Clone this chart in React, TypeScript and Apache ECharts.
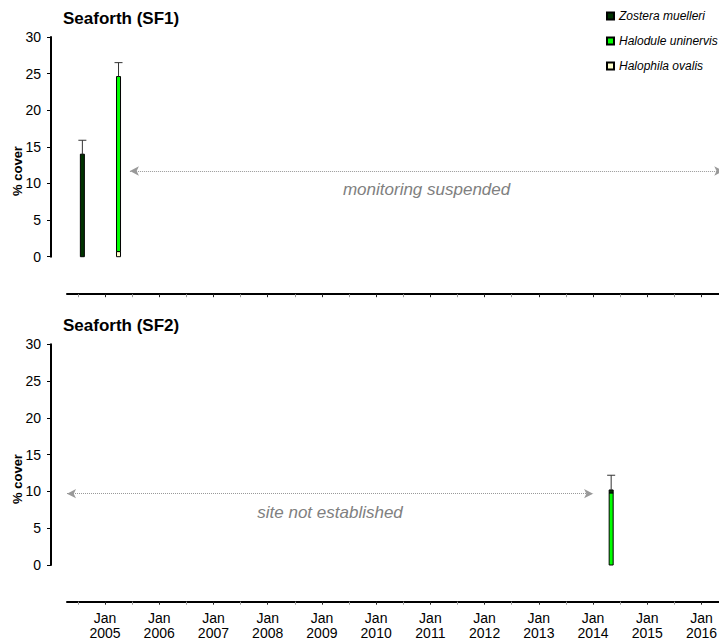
import React, { useEffect, useRef } from "react";
import * as echarts from "echarts";

// ---- data ----
// stack order, bottom -> top
const stackSpecies = ["Halophila ovalis", "Halodule uninervis", "Zostera muelleri"];
const stackColors = ["#FFFFCC", "#00FF00", "#003300"];
const legendOrder = ["Zostera muelleri", "Halodule uninervis", "Halophila ovalis"];

const sf1Title = "Seaforth (SF1)";
const sf1Dates = ["2004-08", "2005-04"];
const sf1Halophila = [null, 0.7];
const sf1Halodule = [null, 23.9];
const sf1Zostera = [14.0, null];
const sf1SE = [1.9, 1.9];
const sf1Note = "monitoring suspended";
const sf1NoteFrom = 2005.46;
const sf1NoteTo = 2016.4;
const sf1NoteLevel = 11.7;

const sf2Title = "Seaforth (SF2)";
const sf2Dates = ["2014-05"];
const sf2Halophila = [null];
const sf2Halodule = [9.8];
const sf2Zostera = [0.4];
const sf2SE = [2.0];
const sf2Note = "site not established";
const sf2NoteFrom = 2004.3;
const sf2NoteTo = 2014.0;
const sf2NoteLevel = 9.7;

const yearTicks = [2005, 2006, 2007, 2008, 2009, 2010, 2011, 2012, 2013, 2014, 2015, 2016];
const halfYearTicks = [2004.5, 2005.5, 2006.5, 2007.5, 2008.5, 2009.5, 2010.5, 2011.5, 2012.5, 2013.5, 2014.5, 2015.5, 2016.5];
const yTickMax = 30;
const yTickStep = 5;
const yLabel = "% cover";

const FONT = "Liberation Sans, Arial, sans-serif";

function toYear(s: string): number {
  const [y, m] = s.split("-").map(Number);
  return y + (m - 1) / 12;
}

type Panel = {
  title: string;
  dates: string[];
  stacks: (number | null)[][];
  se: number[];
  note: string;
  noteFrom: number;
  noteTo: number;
  noteLevel: number;
};

const panels: Panel[] = [
  {
    title: sf1Title,
    dates: sf1Dates,
    stacks: [sf1Halophila, sf1Halodule, sf1Zostera],
    se: sf1SE,
    note: sf1Note,
    noteFrom: sf1NoteFrom,
    noteTo: sf1NoteTo,
    noteLevel: sf1NoteLevel,
  },
  {
    title: sf2Title,
    dates: sf2Dates,
    stacks: [sf2Halophila, sf2Halodule, sf2Zostera],
    se: sf2SE,
    note: sf2Note,
    noteFrom: sf2NoteFrom,
    noteTo: sf2NoteTo,
    noteLevel: sf2NoteLevel,
  },
];

// layout
const layout = [
  { top: 37, height: 219.7, xOffset: 37.5, titleY: 18, yLabelY: 171 },
  { top: 344.3, height: 220.7, xOffset: 36.7, titleY: 325, yLabelY: 479 },
];

export default function App() {
  const ref = useRef<HTMLDivElement>(null);

  useEffect(() => {
    if (!ref.current) return;
    const chart = echarts.init(ref.current, undefined, { renderer: "svg" });

    const grid: any[] = [];
    const xAxis: any[] = [];
    const yAxis: any[] = [];
    const series: any[] = [];
    const graphic: any[] = [];

    panels.forEach((p, i) => {
      const L = layout[i];
      grid.push({ left: 67, top: L.top, width: 688.8, height: L.height, containLabel: false });
      xAxis.push({
        type: "value",
        gridIndex: i,
        min: 2004.3,
        max: 2017,
        position: "bottom",
        offset: L.xOffset,
        axisLine: { show: true, onZero: false, lineStyle: { color: "#000", width: 2 } },
        axisTick: { show: true, customValues: yearTicks, length: 3, lineStyle: { color: "#222", width: 1 } },
        axisLabel: {
          show: i === 1,
          customValues: yearTicks,
          formatter: (v: number) => "Jan\n" + Math.round(v),
          fontSize: 14,
          lineHeight: 15,
          color: "#000",
          fontFamily: FONT,
          margin: 9,
        },
        splitLine: { show: false },
      });
      xAxis.push({
        type: "value",
        gridIndex: i,
        min: 2004.3,
        max: 2017,
        position: "bottom",
        offset: L.xOffset,
        axisLine: { show: false, onZero: false },
        axisTick: { show: true, customValues: halfYearTicks, length: 3, lineStyle: { color: "#999", width: 1 } },
        axisLabel: { show: false },
        splitLine: { show: false },
      });
      yAxis.push({
        type: "value",
        gridIndex: i,
        min: 0,
        max: yTickMax,
        interval: yTickStep,
        position: "left",
        offset: 16,
        axisLine: { show: true, onZero: false, lineStyle: { color: "#000", width: 2 } },
        axisTick: { show: true, length: 4, lineStyle: { color: "#000", width: 1 } },
        axisLabel: { fontSize: 14, color: "#000", fontFamily: FONT, margin: 10 },
        splitLine: { show: false },
      });

      const xs = p.dates.map(toYear);
      const running = xs.map(() => 0);
      p.stacks.forEach((vals, s) => {
        const rows = xs.map((x, k) => {
          const v = vals[k];
          const base = running[k];
          if (v != null) running[k] += v;
          return [x, base, v == null ? base : base + v];
        });
        const color = stackColors[s];
        series.push({
          type: "custom",
          name: stackSpecies[s],
          xAxisIndex: i * 2,
          yAxisIndex: i,
          silent: true,
          z: 3,
          itemStyle: { color, borderColor: "#000", borderWidth: 1 },
          encode: { x: 0, y: [1, 2] },
          data: rows,
          renderItem: (_params: any, api: any) => {
            const x = api.value(0);
            const lo = api.value(1);
            const hi = api.value(2);
            if (!(hi > lo)) return null;
            const p0 = api.coord([x, lo]);
            const p1 = api.coord([x, hi]);
            return {
              type: "rect",
              shape: { x: p0[0] - 2, y: p1[1], width: 4, height: p0[1] - p1[1] },
              style: { fill: color, stroke: "#000", lineWidth: 1 },
            };
          },
        });
      });
      const totals = running;
      series.push({
        type: "custom",
        name: "se" + i,
        xAxisIndex: i * 2,
        yAxisIndex: i,
        silent: true,
        z: 5,
        encode: { x: 0, y: 1 },
        data: xs.map((x, k) => [x, totals[k], p.se[k]]),
        renderItem: (_params: any, api: any) => {
          const x = api.value(0);
          const t = api.value(1);
          const e = api.value(2);
          const p0 = api.coord([x, t]);
          const p1 = api.coord([x, t + e]);
          return {
            type: "group",
            children: [
              { type: "line", shape: { x1: p0[0], y1: p0[1], x2: p1[0], y2: p1[1] }, style: { stroke: "#333", lineWidth: 1 } },
              { type: "line", shape: { x1: p1[0] - 4, y1: p1[1], x2: p1[0] + 4, y2: p1[1] }, style: { stroke: "#333", lineWidth: 1 } },
            ],
          };
        },
        markLine: {
          silent: true,
          symbol: ["arrow", "arrow"],
          symbolSize: [7, 9],
          lineStyle: { type: "dotted", color: "#999", width: 1 },
          label: {
            show: true,
            position: "insideMiddleBottom",
            formatter: p.note,
            fontSize: 17,
            fontStyle: "italic",
            color: "#808080",
            fontFamily: FONT,
            distance: 10,
          },
          data: [[{ coord: [p.noteFrom, p.noteLevel] }, { coord: [p.noteTo, p.noteLevel] }]],
        },
      });

      graphic.push({
        type: "text",
        x: 63,
        y: L.titleY,
        silent: true,
        style: {
          text: p.title,
          fontSize: 17,
          fontWeight: "bold",
          fontFamily: FONT,
          fill: "#000",
          align: "left",
          verticalAlign: "middle",
        },
      });
      graphic.push({
        type: "text",
        x: 17,
        y: L.yLabelY,
        rotation: Math.PI / 2,
        silent: true,
        style: {
          text: yLabel,
          fontSize: 13,
          fontWeight: "bold",
          fontFamily: FONT,
          fill: "#000",
          align: "center",
          verticalAlign: "middle",
        },
      });
    });

    chart.setOption({
      animation: false,
      backgroundColor: "#fff",
      textStyle: { fontFamily: FONT },
      grid,
      xAxis,
      yAxis,
      series,
      graphic,
      legend: {
        data: legendOrder,
        orient: "vertical",
        left: 606,
        top: 9,
        icon: "rect",
        itemWidth: 7,
        itemHeight: 7,
        itemGap: 11,
        padding: 0,
        selectedMode: false,
        textStyle: { fontSize: 12, fontStyle: "italic", color: "#000", fontFamily: FONT, lineHeight: 14 },
      },
    });

    return () => chart.dispose();
  }, []);

  return (
    <div style={{ position: "fixed", left: 0, top: 0, width: 719, height: 644, overflow: "hidden", background: "#fff" }}>
      <div ref={ref} style={{ width: 760, height: 644 }} />
    </div>
  );
}
